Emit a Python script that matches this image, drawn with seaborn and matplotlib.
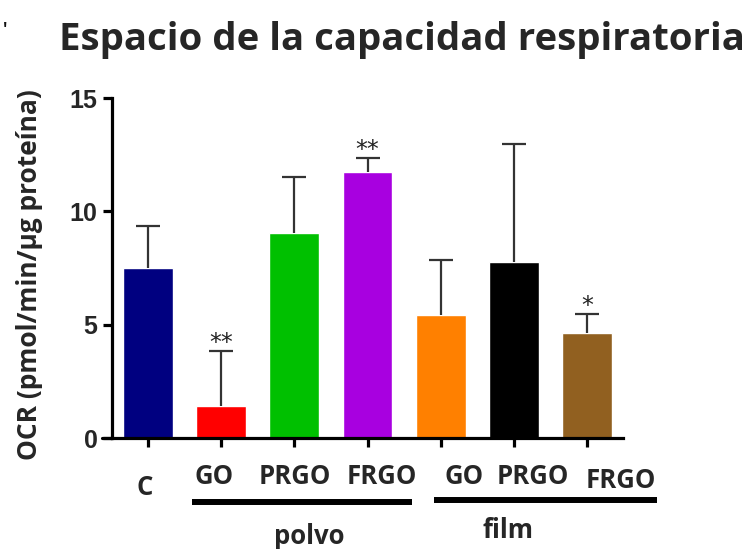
import numpy as np
import pandas as pd
import seaborn as sns
import matplotlib.pyplot as plt
from matplotlib import transforms
from matplotlib.lines import Line2D

# ---------------- data ----------------
categories = ["C", "GO polvo", "PRGO polvo", "FRGO polvo", "GO film", "PRGO film", "FRGO film"]
tick_labels = ["C", "GO", "PRGO", "FRGO", "GO", "PRGO", "FRGO"]
means = [7.50, 1.41, 9.04, 11.73, 5.43, 7.76, 4.63]
errors = [1.85, 2.43, 2.47, 0.62, 2.42, 5.21, 0.84]
significance = ["", "**", "", "**", "", "", "*"]
group_names = ["polvo", "film"]
colors = ["#000080", "#FF0000", "#00C000", "#A800E0", "#FF8000", "#000000", "#916020"]
y_ticks = [0, 5, 10, 15]
title = "Espacio de la capacidad respiratoria"
y_label = "OCR (pmol/min/µg proteína)"

# ---------------- layout ----------------
W, H = 752, 549
sns.set_style("ticks")
plt.rcParams["font.family"] = ["Open Sans", "DejaVu Sans"]

fig = plt.figure(figsize=(W / 100, H / 100), dpi=100)
ax = fig.add_axes([112 / W, 1 - 438 / H, (623 - 112) / W, (438 - 98) / H])

df = pd.DataFrame({"cat": categories, "val": means})
sns.barplot(data=df, x="cat", y="val", hue="cat", palette=colors, legend=False,
            width=0.68, saturation=1, errorbar=None, ax=ax)

xs = np.arange(len(categories))
tops = np.array(means) + np.array(errors)
ax.vlines(xs, means, tops, colors="#333333", linewidth=1.6, zorder=1)
ax.plot(xs, tops, linestyle="none", marker="_", markersize=17, markeredgewidth=1.6,
        color="#333333", zorder=1)

ax.set_xlim(-0.49, 6.49)
ax.set_ylim(0, 15)
ax.set_yticks(y_ticks)
ax.set_yticklabels([str(t) for t in y_ticks], fontfamily="Liberation Sans",
                   fontweight="bold", fontsize=18)
ax.set_xticks(xs)
ax.set_xticklabels([])
ax.set_xlabel("")
ax.set_ylabel("")
for s in ["top", "right"]:
    ax.spines[s].set_visible(False)
for s in ["left", "bottom"]:
    ax.spines[s].set_linewidth(2.3)
    ax.spines[s].set_color("black")
ax.tick_params(axis="both", direction="out", length=6.5, width=2.3, color="black", pad=4)
ax.add_line(Line2D([-0.02, 0], [0, 0], transform=ax.transAxes, color="black",
                   lw=2.3, clip_on=False))

# significance stars
for x, t, s in zip(xs, tops, significance):
    if s:
        ax.annotate(s, (x, t), xytext=(0, 1.0), textcoords="offset points",
                    ha="center", va="baseline", fontsize=17, fontfamily="DejaVu Sans",
                    color="#222222")

# category labels (bold, below axis)
blend = transforms.blended_transform_factory(ax.transData, fig.transFigure)
label_x = [-0.04, 0.90, 2.01, 3.20, 4.32, 5.26, 6.46]
label_y_px = [487.5, 476.5, 476.5, 476.5, 476.5, 476.5, 480]
for lx, ly, t in zip(label_x, label_y_px, tick_labels):
    fig.text(lx, 1 - ly / H, t, transform=blend, ha="center", va="center",
             fontsize=18.5, fontweight="bold")

# group underlines and names
underlines = [(0.60, 3.61, 501.5), (3.91, 6.96, 500)]
group_pos = [(2.21, 536), (4.92, 531)]
for (x0, x1, ypx), (gx, gy), g in zip(underlines, group_pos, group_names):
    fig.add_artist(Line2D([x0, x1], [1 - ypx / H, 1 - ypx / H], transform=blend,
                          color="black", lw=4.3, solid_capstyle="butt"))
    fig.text(gx, 1 - gy / H, g, transform=blend, ha="center", va="center",
             fontsize=18.5, fontweight="bold")

# title and y label
fig.text(402 / W, 1 - 40 / H, title, ha="center", va="center", fontsize=27.6,
         fontweight="bold")
fig.text(30 / W, 1 - 275 / H, y_label, ha="center", va="center", rotation=90,
         fontsize=19, fontweight="bold")
fig.text(5 / W, 1 - 30 / H, "'", ha="center", va="center", fontsize=12,
         fontweight="bold", color="#111111")

fig.savefig("out.png", dpi=100)
